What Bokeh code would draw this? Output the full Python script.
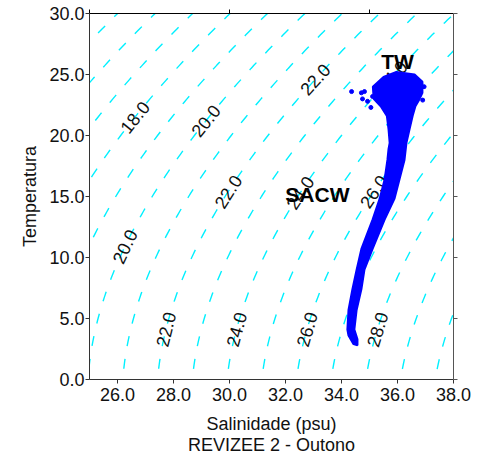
import numpy as np
from bokeh.plotting import figure
from bokeh.models import LinearAxis, FixedTicker, PrintfTickFormatter, CustomJSTickFormatter
from bokeh.core.properties import value
from bokeh.embed import file_html
from bokeh.resources import INLINE

# ---------------- data ----------------
sigma_levels = list(range(13, 32))
label_levels = [18, 20, 22, 24, 20, 22, 24, 26, 22, 24, 26, 28]
label_T = [21.5, 21.2, 24.6, 24.85, 10.9, 15.4, 15.3, 15.4, 4.1, 4.1, 4.1, 4.1]

# envelope of the CTD point cloud (salinity, temperature)
cloud_S = [34.43, 34.25, 34.21, 34.25, 34.39, 34.54, 34.71, 35.11, 35.36, 35.54, 35.64, 35.68,
           35.72, 35.68, 35.62, 35.40, 35.15, 35.12, 35.50, 35.96, 36.61, 36.89, 36.89, 36.79,
           36.64, 36.54, 36.43, 36.32, 36.25, 36.07, 35.89, 35.54, 35.11, 34.82, 34.71, 34.54,
           34.46, 34.57, 34.57]
cloud_T = [2.9, 3.6, 4.1, 5.7, 7.4, 9.0, 10.7, 13.1, 14.8, 16.4, 18.0, 18.9,
           19.4, 20.5, 21.6, 22.4, 23.0, 24.0, 24.8, 25.2, 25.0, 24.4, 23.5, 23.0,
           22.4, 21.6, 20.5, 19.4, 18.0, 16.4, 14.8, 13.1, 10.7, 9.0, 7.4, 5.7,
           4.1, 3.3, 2.8]
stray_S = [34.36, 34.71, 34.75, 34.93, 35.11, 34.82, 35.79, 35.05, 36.95, 36.9]
stray_T = [23.6, 23.5, 23.0, 22.8, 23.2, 23.6, 20.3, 22.3, 24.0, 22.9]

water_masses = ["TW", "SACW"]
water_S = [36.0, 33.14]
water_T = [26.1, 15.2]

x_ticks = [26, 28, 30, 32, 34, 36, 38]
y_ticks = [0, 5, 10, 15, 20, 25, 30]

# ---------------- density (sigma-t, EOS-80 at p=0) ----------------
def sigma_t(S, T):
    rw = (999.842594 + 6.793952e-2 * T - 9.095290e-3 * T**2 + 1.001685e-4 * T**3
          - 1.120083e-6 * T**4 + 6.536332e-9 * T**5)
    A = 8.24493e-1 - 4.0899e-3 * T + 7.6438e-5 * T**2 - 8.2467e-7 * T**3 + 5.3875e-9 * T**4
    B = -5.72466e-3 + 1.0227e-4 * T - 1.6546e-6 * T**2
    C = 4.8314e-4
    return rw + A * S + B * S**1.5 + C * S**2 - 1000.0

S_grid = np.linspace(15, 45, 3001)

def salinity_for(level, T):
    return float(np.interp(level, sigma_t(S_grid, T), S_grid))

T_line = np.linspace(-1, 31, 129)
cont_xs = [[salinity_for(l, t) for t in T_line] for l in sigma_levels]
cont_ys = [list(T_line) for _ in sigma_levels]

FW, FH = 364, 366
px_S = FW / 13.0
px_T = FH / 30.0

lab_x, lab_ang, lab_txt = [], [], []
for l, t in zip(label_levels, label_T):
    s = salinity_for(l, t)
    ds = salinity_for(l, t + 0.5) - salinity_for(l, t - 0.5)
    lab_x.append(s)
    lab_ang.append(float(np.arctan2(1.0 * px_T, ds * px_S)))
    lab_txt.append("%.1f" % l)

# ---------------- figure ----------------
FONT = "Liberation Sans"
p = figure(frame_width=FW, frame_height=FH, x_range=(25, 38), y_range=(0, 30),
           min_border_left=89, min_border_top=13, min_border_right=19, min_border_bottom=72,
           output_backend="svg", toolbar_location=None)
p.outline_line_color = None
p.grid.visible = False
p.background_fill_color = "white"

p.multi_line(cont_xs, cont_ys, line_color="#00f0ff", line_width=1.4, line_dash="10 13")
p.text(x=lab_x, y=label_T, text=lab_txt, angle=lab_ang, text_align="center",
       text_baseline="middle", text_font=value(FONT), text_font_size=value("18px"),
       text_color="#111111")

p.patch(cloud_S, cloud_T, fill_color="#0000ff", line_color="#0000ff", line_width=2)
p.scatter(stray_S, stray_T, size=4, color="#0000ff")

p.text(x=water_S, y=water_T, text=water_masses, text_align="center", text_baseline="middle",
       text_font=value(FONT), text_font_size=value("21px"), text_font_style="bold",
       text_color="#000000")

xa = p.xaxis[0]
xa.ticker = FixedTicker(ticks=x_ticks)
xa.formatter = PrintfTickFormatter(format="%.1f")
xa.axis_label = "Salinidade (psu)\nREVIZEE 2 - Outono"
xa.axis_label_text_line_height = 1.05
xa.minor_tick_line_color = None
xa.major_tick_out = 4
xa.major_tick_in = 0
xa.major_label_standoff = 4
xa.axis_label_standoff = 10

ya = p.yaxis[0]
ya.ticker = FixedTicker(ticks=y_ticks)
ya.formatter = PrintfTickFormatter(format="%.1f")
ya.axis_label = "Temperatura"
ya.minor_tick_line_color = None
ya.major_tick_out = 4
ya.major_tick_in = 0
ya.major_label_standoff = 1
ya.axis_label_standoff = 6

for ax in [xa, ya]:
    ax.axis_line_color = "#333333"
    ax.major_tick_line_color = "#333333"
    ax.major_label_text_font = FONT
    ax.major_label_text_font_size = "18px"
    ax.major_label_text_color = "#111111"
    ax.axis_label_text_font = FONT
    ax.axis_label_text_font_size = "18px"
    ax.axis_label_text_font_style = "normal"
    ax.axis_label_text_color = "#111111"

top = LinearAxis(ticker=FixedTicker(ticks=[25, 30, 35]), formatter=CustomJSTickFormatter(code="return ''"),
                 minor_tick_line_color=None, major_tick_out=4, major_tick_in=0,
                 axis_line_color="#000000", major_tick_line_color="#000000",
                 major_label_text_font_size="1px", major_label_standoff=0)
right = LinearAxis(ticker=FixedTicker(ticks=y_ticks), formatter=CustomJSTickFormatter(code="return ''"),
                   minor_tick_line_color=None, major_tick_out=4, major_tick_in=0,
                   axis_line_color="#555555", major_tick_line_color="#555555",
                   major_label_text_font_size="1px", major_label_standoff=0)
p.add_layout(top, "above")
p.add_layout(right, "right")

open("out.html", "w").write(file_html(p, INLINE))
